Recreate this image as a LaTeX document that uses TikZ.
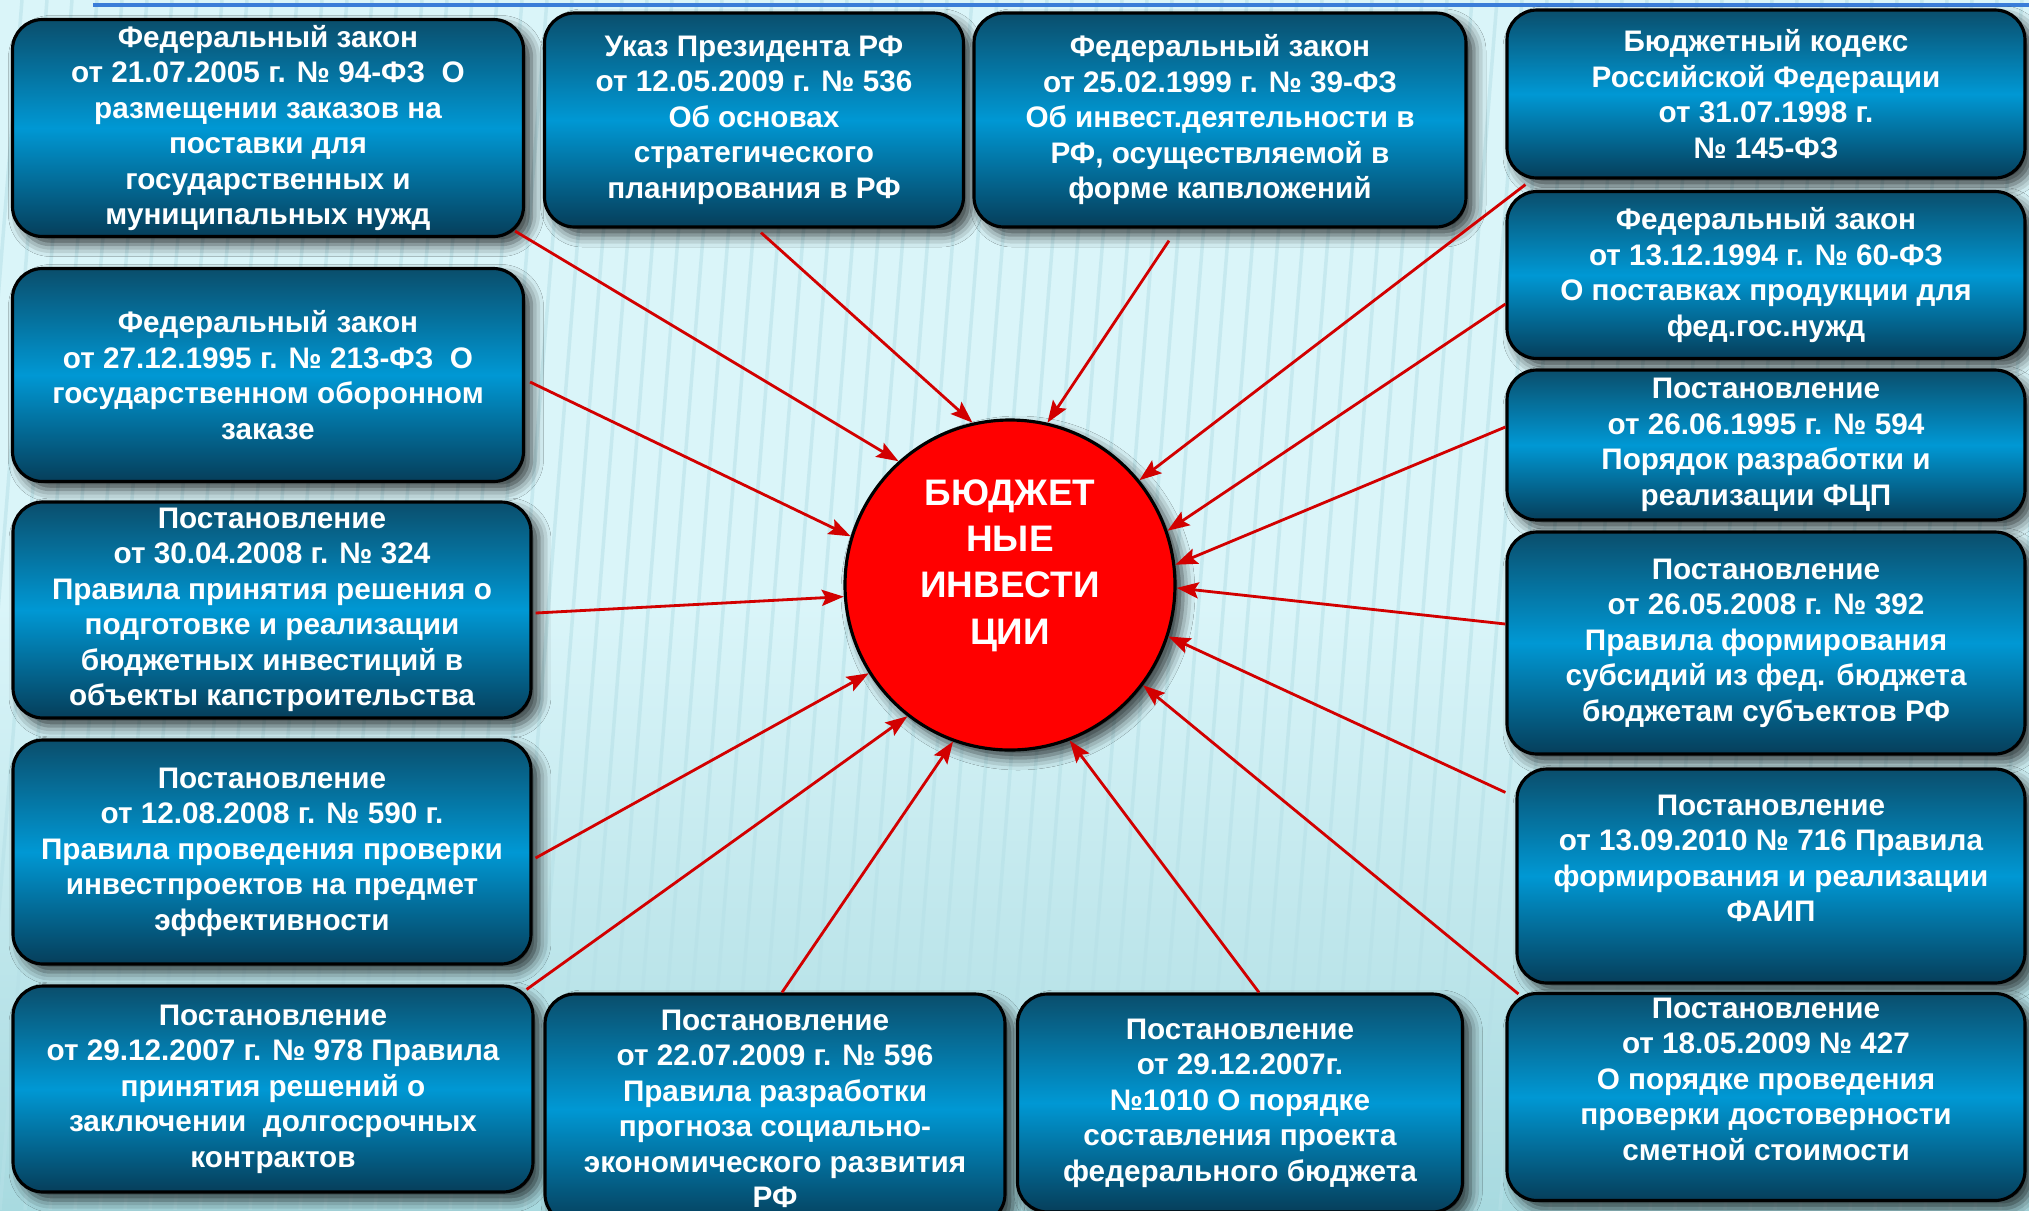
\documentclass[tikz,border=0pt]{standalone}
\usepackage{fontspec}
\setmainfont{Liberation Sans}
\usetikzlibrary{arrows.meta,shadows.blur}

\definecolor{docdark}{RGB}{10,78,108}
\definecolor{docmid}{RGB}{0,152,212}
\definecolor{docdeep}{RGB}{6,62,90}
\definecolor{linkred}{RGB}{210,0,0}
\definecolor{bgtop}{RGB}{218,245,249}
\definecolor{bgbot}{RGB}{168,218,224}
\definecolor{stripe}{RGB}{182,224,231}
\definecolor{rule}{RGB}{58,125,216}

\begin{document}
\begin{tikzpicture}[x=.1mm, y=-.1mm,
	doc/.style={draw=black, line width=.9pt, rounded corners=3mm,
		top color=docdark, bottom color=docdeep, middle color=docmid,
		text=white, align=center, inner sep=0pt,
		font=\bfseries\fontsize{8.45}{10.1}\selectfont,
		blur shadow={shadow xshift=.8mm, shadow yshift=-.8mm, shadow blur radius=1.2mm, shadow opacity=75}},
	link/.style={draw=linkred, line width=.8pt, -{Stealth[length=2.2mm, width=1.6mm, inset=.4mm]}}]
	\def\rw{51.8mm}
	\def\lw{51.8mm}
	\useasboundingbox (0,0) rectangle (2029,1210);
	\fill[top color=bgtop, bottom color=bgbot, middle color=bgtop] (0,0) rectangle (2029,1210);
	\foreach \s in {-100,-75,...,2029}
		\draw[stripe, line width=.35mm, opacity=.55] (\s,1210) -- ++(97,-1210);
	\draw[rule, line width=1.1pt] (93,5) -- (2029,5);

	% left column
	\node[doc, minimum width=51.1mm, minimum height=21.7mm] (f94) at (268,128)
		{Федеральный закон\\от 21.07.2005 г. № 94-ФЗ~ О\\размещении заказов на\\поставки для\\государственных и\\муниципальных нужд};
	\node[doc, minimum width=51.1mm, minimum height=21.3mm] (f213) at (268,375)
		{Федеральный закон\\от 27.12.1995 г. № 213-ФЗ~ О\\государственном оборонном\\заказе};
	\node[doc, minimum width=\lw, minimum height=21.6mm] (p324) at (272,610)
		{Постановление\\от 30.04.2008 г. № 324\\Правила принятия решения о\\подготовке и реализации\\бюджетных инвестиций в\\объекты капстроительства};
	\node[doc, minimum width=\lw, minimum height=22.4mm] (p590) at (272,852)
		{Постановление\\от 12.08.2008 г. № 590 г.\\Правила проведения проверки\\инвестпроектов на предмет\\эффективности};
	\node[doc, minimum width=52mm, minimum height=20.6mm] (p978) at (273,1089)
		{Постановление\\от 29.12.2007 г. № 978 Правила\\принятия решений о\\заключении~ долгосрочных\\контрактов};

	% top and bottom row
	\node[doc, minimum width=41.9mm, minimum height=21.4mm] (u536) at (754,120)
		{Указ Президента РФ\\от 12.05.2009 г. № 536\\Об основах\\стратегического\\планирования в РФ};
	\node[doc, minimum width=49.2mm, minimum height=21.4mm] (f39) at (1220,120)
		{Федеральный закон\\от 25.02.1999 г. № 39-ФЗ\\Об инвест.деятельности в\\РФ, осуществляемой в\\форме капвложений};
	\node[doc, minimum width=46mm, minimum height=23mm] (p596) at (775,1109)
		{Постановление\\от 22.07.2009 г. № 596\\Правила разработки\\прогноза социально-\\экономического развития\\РФ};
	\node[doc, minimum width=44.5mm, minimum height=21.8mm] (p1010) at (1240,1103)
		{Постановление\\от 29.12.2007г.\\№1010 О порядке\\составления проекта\\федерального бюджета};

	% right column
	\node[doc, minimum width=\rw, minimum height=16.8mm] (bk) at (1766,94)
		{Бюджетный кодекс\\Российской Федерации\\от 31.07.1998 г.\\№ 145-ФЗ};
	\node[doc, minimum width=\rw, minimum height=16.7mm] (f60) at (1766,275)
		{Федеральный закон\\от 13.12.1994 г. № 60-ФЗ\\О поставках продукции для\\фед.гос.нужд};
	\node[doc, minimum width=\rw, minimum height=15mm] (p594) at (1766,445)
		{Постановление\\от 26.06.1995 г. № 594\\Порядок разработки и\\реализации ФЦП};
	\node[doc, minimum width=\rw, minimum height=22.2mm] (p392) at (1766,643)
		{Постановление\\от 26.05.2008 г. № 392\\Правила формирования\\субсидий из фед. бюджета\\бюджетам субъектов РФ};
	\node[doc, minimum width=50.8mm, minimum height=21.4mm] (p716) at (1771,876)
		{Постановление\\от 13.09.2010 № 716 Правила\\формирования и реализации\\ФАИП\\\mbox{}};
	\node[doc, minimum width=\rw, minimum height=20.7mm] (p427) at (1766,1097)
		{Постановление\\от 18.05.2009 № 427\\О порядке проведения\\проверки достоверности\\сметной стоимости\\\mbox{}};

	\node[circle, draw=black, line width=.9pt, fill=red, minimum size=33mm, inner sep=0pt,
		text=white, align=center, font=\bfseries\fontsize{10.5}{13.2}\selectfont,
		blur shadow={shadow xshift=.8mm, shadow yshift=-.8mm, shadow blur radius=1.2mm, shadow opacity=75}]
		(invest) at (1010,585) {БЮДЖЕТ\\НЫЕ\\ИНВЕСТИ\\ЦИИ\\\mbox{}};

	\draw[link] ([shift={(-10,-7)}]f94.south east) -- (invest.132);
	\draw[link] ([shift={(7,4)}]u536.south) -- (invest.103);
	\draw[link] ([shift={(-51,12)}]f39.south) -- (invest.77);
	\draw[link] ([shift={(20,5)}]bk.south west) -- (invest.39);
	\draw[link] ([shift={(0,29)}]f60.west) -- (invest.19);
	\draw[link] ([shift={(0,-18)}]p594.west) -- (invest.7);
	\draw[link] ([shift={(0,-19)}]p392.west) -- (invest.-1);
	\draw[link] ([shift={(-10,25)}]p716.north west) -- (invest.-18);
	\draw[link] ([shift={(13,2)}]p427.north west) -- (invest.-37);
	\draw[link] ([shift={(19,0)}]p1010.north) -- (invest.-69);
	\draw[link] ([shift={(7,0)}]p596.north) -- (invest.-110);
	\draw[link] ([shift={(-8,5)}]p978.north east) -- (invest.-128);
	\draw[link] ([shift={(3,6)}]p590.east) -- (invest.-148);
	\draw[link] ([shift={(3,3)}]p324.east) -- (invest.184);
	\draw[link] ([shift={(5,7)}]f213.east) -- (invest.163);
\end{tikzpicture}
\end{document}
